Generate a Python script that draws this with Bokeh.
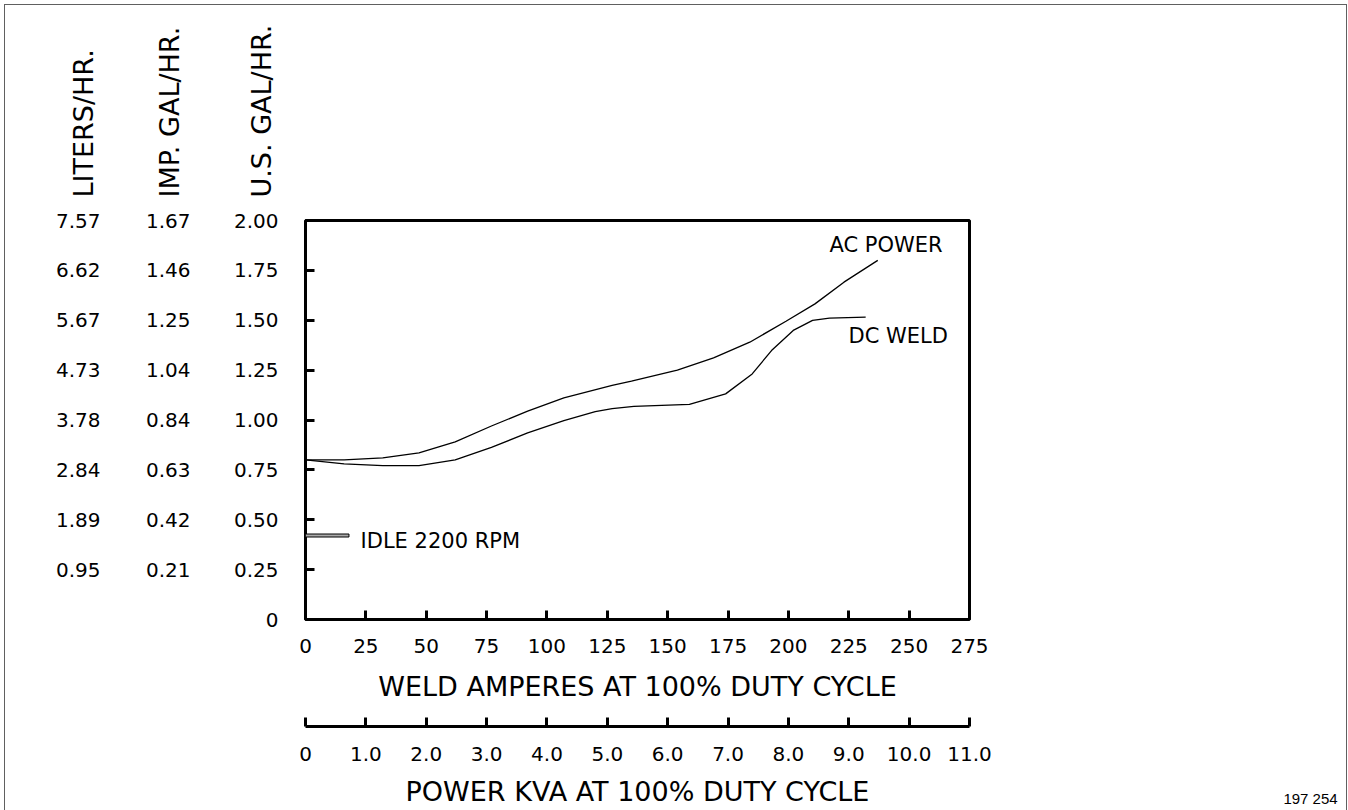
from bokeh.plotting import figure
from bokeh.layouts import column, row
from bokeh.models import LinearAxis, Range1d, FixedTicker, Label, Title
from bokeh.embed import file_html
from bokeh.resources import INLINE

# ---------------- data ----------------
ac_amps = [0, 16, 32, 47, 62, 77, 92, 107, 127, 135, 154, 169, 184, 199, 211, 223, 237]
ac_gal = [0.80, 0.80, 0.81, 0.835, 0.89, 0.97, 1.044, 1.111, 1.173, 1.195, 1.25, 1.311,
          1.39, 1.495, 1.582, 1.691, 1.80]

dc_amps = [0, 16, 32, 47, 62, 77, 92, 107, 120, 127, 136, 159, 174, 185, 193, 202, 210, 217, 232]
dc_gal = [0.80, 0.78, 0.771, 0.771, 0.80, 0.863, 0.935, 0.997, 1.042, 1.057, 1.068, 1.078,
          1.131, 1.231, 1.348, 1.449, 1.499, 1.511, 1.516]

idle_amps = [0, 18]
idle_gal = 0.421

amps_ticks = [0, 25, 50, 75, 100, 125, 150, 175, 200, 225, 250, 275]
amps_labels = ["0", "25", "50", "75", "100", "125", "150", "175", "200", "225", "250", "275"]

kva_ticks = [0, 1, 2, 3, 4, 5, 6, 7, 8, 9, 10, 11]
kva_labels = ["0", "1.0", "2.0", "3.0", "4.0", "5.0", "6.0", "7.0", "8.0", "9.0", "10.0", "11.0"]

us_ticks = [0, 0.25, 0.5, 0.75, 1.0, 1.25, 1.5, 1.75, 2.0]
us_labels = ["0", "0.25", "0.50", "0.75", "1.00", "1.25", "1.50", "1.75", "2.00"]
imp_labels = ["0.21", "0.42", "0.63", "0.84", "1.04", "1.25", "1.46", "1.67"]
liters_labels = ["0.95", "1.89", "2.84", "3.78", "4.73", "5.67", "6.62", "7.57"]

unit_titles = ["U.S. GAL/HR.", "IMP. GAL/HR.", "LITERS/HR."]   # inner to outer
drawing_number = "197 254"

FONT = "DejaVu Sans"

# ---------------- layout geometry (pixels) ----------------
PAGE_W, PAGE_H = 1348, 810
TOP_H = 205
FRAME_L, FRAME_W, FRAME_H = 305, 664, 399
FRAME_R = PAGE_W - FRAME_L - FRAME_W
P_TOP, P_BOTTOM = 15, 95
K_FRAME_H, K_BOTTOM = 12, 84
R_W = 76


def blank(fig):
    fig.grid.visible = False
    fig.outline_line_color = None
    fig.background_fill_color = None
    fig.border_fill_color = None
    return fig


# ---------------- top band: rotated unit titles ----------------
t = blank(figure(width=PAGE_W, height=TOP_H,
                 min_border_left=FRAME_L, min_border_right=FRAME_R,
                 min_border_top=15, min_border_bottom=8,
                 x_range=Range1d(0, 1), y_range=Range1d(0, 1),
                 x_axis_type=None, y_axis_type=None,
                 output_backend="svg", toolbar_location=None))
for txt, standoff in zip(unit_titles, (57, 61, 45)):
    t.add_layout(Title(text=txt, align="left", vertical_align="bottom", standoff=standoff,
                       text_font=FONT, text_font_size="27px", text_font_style="normal",
                       text_color="black"), "left")

# ---------------- main chart ----------------
p = figure(frame_width=FRAME_W, frame_height=FRAME_H,
           min_border_left=FRAME_L, min_border_right=FRAME_R,
           min_border_top=P_TOP, min_border_bottom=P_BOTTOM,
           x_range=Range1d(0, 275), y_range=Range1d(0, 2.0),
           x_axis_type=None, y_axis_type=None,
           output_backend="svg", toolbar_location=None)
p.grid.visible = False
p.outline_line_color = "black"
p.outline_line_width = 3
p.background_fill_color = "white"
p.border_fill_color = None

amps_axis = LinearAxis(
    ticker=FixedTicker(ticks=amps_ticks, minor_ticks=[]),
    major_label_overrides=dict(zip(amps_ticks, amps_labels)),
    axis_line_color=None,
    major_tick_in=9, major_tick_out=0,
    major_tick_line_width=3, major_tick_line_color="black",
    minor_tick_line_color=None,
    major_label_standoff=19,
    major_label_text_font=FONT, major_label_text_font_size="20px",
    major_label_text_color="black",
    axis_label="WELD AMPERES AT 100% DUTY CYCLE",
    axis_label_standoff=15,
    axis_label_text_font=FONT, axis_label_text_font_size="27px",
    axis_label_text_font_style="normal", axis_label_text_color="black",
)
p.add_layout(amps_axis, "below")

us_axis = LinearAxis(
    ticker=FixedTicker(ticks=us_ticks, minor_ticks=[]),
    major_label_overrides=dict(zip(us_ticks, us_labels)),
    axis_line_color=None,
    major_tick_in=9, major_tick_out=0,
    major_tick_line_width=3, major_tick_line_color="black",
    minor_tick_line_color=None,
    major_label_standoff=27,
    major_label_text_font=FONT, major_label_text_font_size="20px",
    major_label_text_color="black",
)
p.add_layout(us_axis, "left")

for labels, standoff in ((imp_labels, 40), (liters_labels, 42)):
    ax = LinearAxis(
        ticker=FixedTicker(ticks=us_ticks[1:], minor_ticks=[]),
        major_label_overrides=dict(zip(us_ticks[1:], labels)),
        axis_line_color=None,
        major_tick_line_color=None, minor_tick_line_color=None,
        major_tick_in=0, major_tick_out=0,
        major_label_standoff=standoff,
        major_label_text_font=FONT, major_label_text_font_size="20px",
        major_label_text_color="black",
    )
    p.add_layout(ax, "left")

p.line(ac_amps, ac_gal, line_color="black", line_width=1.3)
p.line(dc_amps, dc_gal, line_color="black", line_width=1.3)
p.quad(left=[idle_amps[0]], right=[idle_amps[1]],
       bottom=[idle_gal - 0.0075], top=[idle_gal + 0.0075],
       fill_color="#aaaaaa", line_color="black", line_width=1)


def lab(x, y, text):
    p.add_layout(Label(x=x, y=y, text=text, text_font=FONT, text_font_size="21px",
                       text_align="left", text_baseline="middle", text_color="black"))


lab(217.0, 1.875, "AC POWER")
lab(224.9, 1.419, "DC WELD")
lab(22.8, 0.391, "IDLE 2200 RPM")

# ---------------- second scale: power kVA ----------------
k = blank(figure(frame_width=FRAME_W, frame_height=K_FRAME_H,
                 min_border_left=FRAME_L, min_border_right=PAGE_W - FRAME_L - FRAME_W - R_W,
                 min_border_top=0, min_border_bottom=K_BOTTOM,
                 x_range=Range1d(kva_ticks[0], kva_ticks[-1]), y_range=Range1d(0, 1),
                 x_axis_type=None, y_axis_type=None,
                 output_backend="svg", toolbar_location=None))
kva_axis = LinearAxis(
    ticker=FixedTicker(ticks=kva_ticks, minor_ticks=[]),
    major_label_overrides=dict(zip(kva_ticks, kva_labels)),
    axis_line_color="black", axis_line_width=3,
    major_tick_in=9, major_tick_out=0,
    major_tick_line_width=3, major_tick_line_color="black",
    minor_tick_line_color=None,
    major_label_standoff=20,
    major_label_text_font=FONT, major_label_text_font_size="20px",
    major_label_text_color="black",
    axis_label="POWER KVA AT 100% DUTY CYCLE",
    axis_label_standoff=12,
    axis_label_text_font=FONT, axis_label_text_font_size="27px",
    axis_label_text_font_style="normal", axis_label_text_color="black",
)
k.add_layout(kva_axis, "below")

# ---------------- drawing number, bottom right ----------------
r = blank(figure(width=R_W, frame_height=K_FRAME_H,
                 min_border_left=0, min_border_right=0,
                 min_border_top=0, min_border_bottom=K_BOTTOM,
                 x_range=Range1d(0, 1), y_range=Range1d(0, 1),
                 x_axis_type=None, y_axis_type=None,
                 output_backend="svg", toolbar_location=None))
r.add_layout(LinearAxis(
    ticker=FixedTicker(ticks=[], minor_ticks=[]),
    axis_line_color=None, major_tick_line_color=None, minor_tick_line_color=None,
    major_tick_in=0, major_tick_out=0, major_label_standoff=0,
    axis_label=drawing_number, axis_label_standoff=63,
    axis_label_text_font="Liberation Sans", axis_label_text_font_size="15px",
    axis_label_text_font_style="normal", axis_label_text_color="black",
), "below")

layout = column(t, p, row(k, r))
layout.styles = {
    "box-shadow": ("inset 4px 4px 0 0 #ffffff, inset -1px 0 0 0 #ffffff, "
                   "inset 5px 5px 0 0 #606060, inset -2px 0 0 0 #606060"),
}

open("out.html", "w").write(file_html(layout, INLINE))
